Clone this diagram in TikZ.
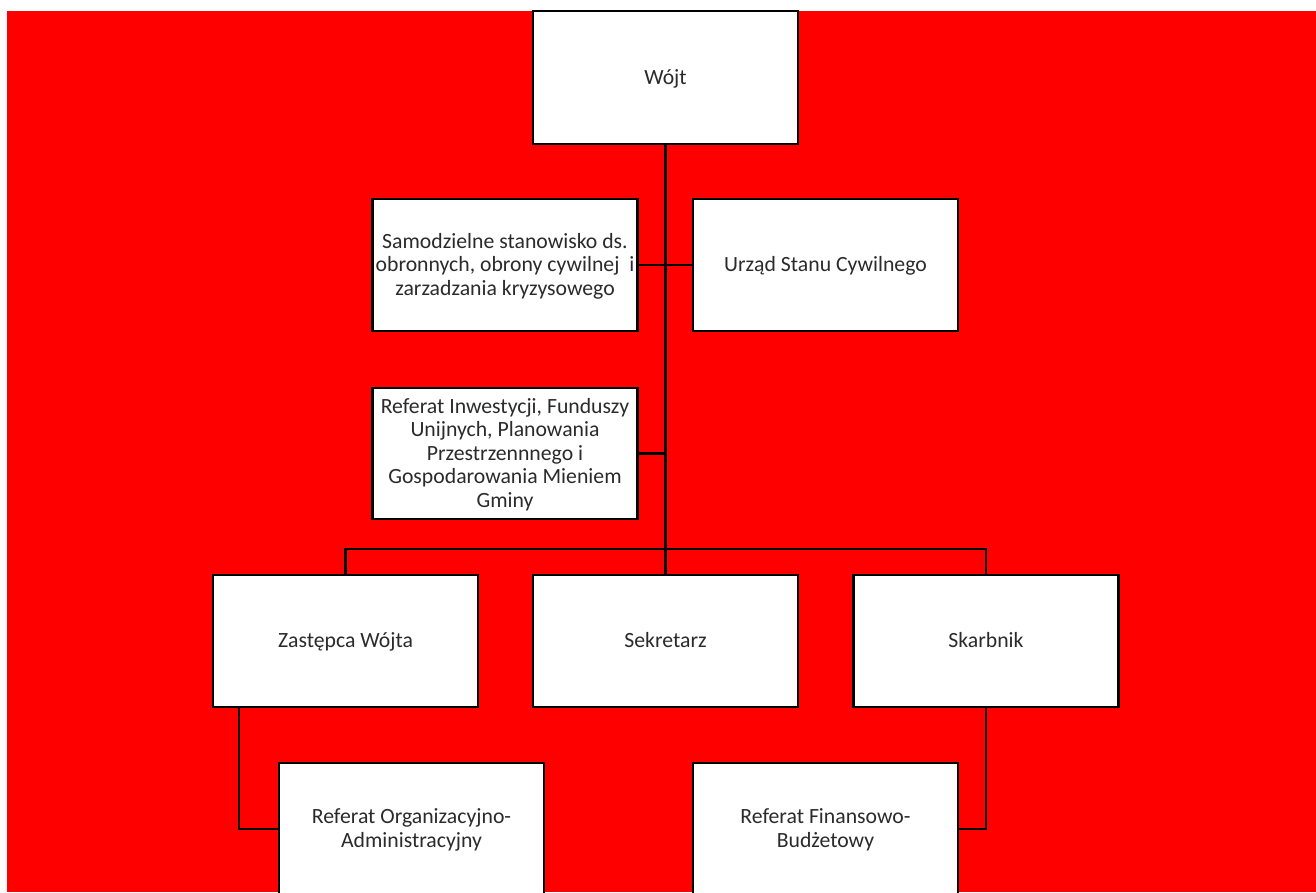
\documentclass[tikz,border=0pt]{standalone}
\usepackage{fontspec}
\setmainfont{Carlito}
\definecolor{bgred}{HTML}{FF0000}
\definecolor{txt}{HTML}{2B2B2B}
\newcommand{\tp}{\rule{0pt}{14.4pt}}
\newcommand{\bt}{\rule[-4.4pt]{0pt}{0pt}}
\tikzset{
  box/.style={draw=black, line width=1.8pt, fill=white, minimum width=198.75pt, minimum height=99pt,
    inner sep=2pt, align=center, text=txt, font=\fontsize{16.3}{17.6}\selectfont},
  link/.style={draw=black, line width=1.8pt}
}
\begin{document}
\begin{tikzpicture}[x=0.75pt, y=-0.75pt]
\useasboundingbox (0,0) rectangle (1316,892);
\clip (0,0) rectangle (1316,892);
\fill[bgred] (7,11) rectangle (1316,892);

\node[box, minimum height=99.75pt] (wojt) at (665.5,77.5) {\tp Wójt\bt};
\node[box] (sam) at (505,265) {\tp Samodzielne stanowisko ds.\\obronnych, obrony cywilnej\ \ i\\zarzadzania kryzysowego\bt};
\node[box] (usc) at (825.5,265) {\tp Urząd Stanu Cywilnego\bt};
\node[box, minimum height=98.25pt] (ref1) at (505,453.5) {\tp Referat Inwestycji, Funduszy\\Unijnych, Planowania\\Przestrzennnego i\\Gospodarowania Mieniem\\Gminy\bt};
\node[box] (zast) at (345.5,641) {\tp Zastępca Wójta\bt};
\node[box] (sek) at (665.5,641) {\tp Sekretarz\bt};
\node[box] (skarb) at (986,641) {\tp Skarbnik\bt};
\node[box] (refoa) at (411.5,829) {\tp Referat Organizacyjno-\\Administracyjny\bt};
\node[box] (reffb) at (825.5,829) {\tp Referat Finansowo-\\Budżetowy\bt};

\coordinate (bus) at (665.5,549);

\draw[link] (wojt.south) -- (sek.north);
\draw[link] (sam.east) -- (usc.west);
\draw[link] (ref1.east) -- (ref1.east -| wojt.south);
\draw[link] (zast.north) |- (bus) -| (skarb.north);
\draw[link] ([xshift=20.25pt]zast.south west) |- (refoa.west);
\draw[link] (skarb.south) |- (reffb.east);
\end{tikzpicture}
\end{document}
